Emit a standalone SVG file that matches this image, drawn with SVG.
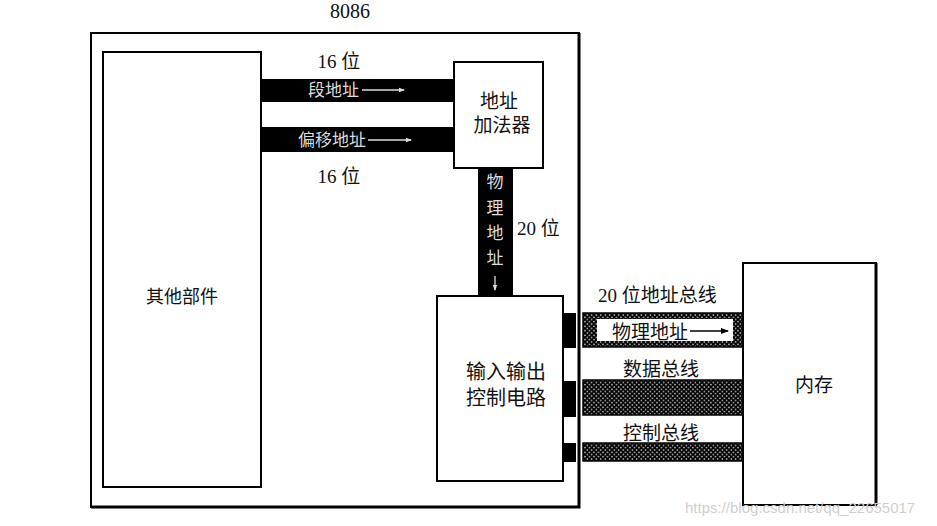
<svg xmlns="http://www.w3.org/2000/svg" width="937" height="526" viewBox="0 0 937 526">
<style>
.box{fill:#fff;stroke:#000;stroke-width:2}
.lbl{font-family:"Liberation Serif","Noto Sans CJK SC",serif;font-size:19px;fill:#111}
.wt{font-family:"Liberation Serif","Noto Sans CJK SC",serif;font-size:17px;fill:#ddd}
.bar{fill:#000}
.hb{fill:url(#hatch);stroke:#000;stroke-width:1.5}
.warr{stroke:#ddd;stroke-width:1.3;fill:none}
.barr{stroke:#000;stroke-width:1.5;fill:none}
</style>
<defs>
<pattern id="hatch" width="4.5" height="4.5" patternUnits="userSpaceOnUse">
<rect width="4.5" height="4.5" fill="#fff"/>
<path d="M0,0L4.5,4.5M4.5,0L0,4.5" stroke="#000" stroke-width="1.9"/>
</pattern>
<marker id="wh" markerWidth="6" markerHeight="6" refX="5" refY="3" orient="auto" markerUnits="userSpaceOnUse">
<path d="M0,0.8L6,3L0,5.2z" fill="#ddd"/>
</marker>
<marker id="bh" markerWidth="8" markerHeight="8" refX="7" refY="4" orient="auto" markerUnits="userSpaceOnUse">
<path d="M0,1L8,4L0,7z" fill="#000"/>
</marker>
</defs>
<rect width="937" height="526" fill="#fff"/>

<g id="cpu8086">
<rect class="box" x="91" y="33" width="488" height="474"/>
<path d="M579,33V507H91" stroke="#000" stroke-width="3" fill="none"/>
<text class="lbl" x="350" y="18" text-anchor="middle" style="font-size:20px">8086</text>
</g>

<g id="other-parts">
<rect class="box" x="103" y="52" width="158" height="435"/>
<text class="lbl" x="182" y="303" text-anchor="middle" style="font-size:18px">其他部件</text>
</g>

<g id="connectors">
<!-- segment address -->
<rect class="bar" x="261" y="79" width="193" height="23"/>
<text class="wt" x="308" y="96">段地址</text>
<line class="warr" x1="362" y1="90" x2="404" y2="90" marker-end="url(#wh)"/>
<text class="lbl" x="339" y="68" text-anchor="middle">16 位</text>
<!-- offset address -->
<rect class="bar" x="261" y="127" width="193" height="25"/>
<text class="wt" x="298" y="146">偏移地址</text>
<line class="warr" x1="368" y1="140" x2="411" y2="140" marker-end="url(#wh)"/>
<text class="lbl" x="339" y="183" text-anchor="middle">16 位</text>
<!-- physical address vertical -->
<rect class="bar" x="478" y="168" width="35" height="128"/>
<text class="wt" x="495" y="188" text-anchor="middle">物</text>
<text class="wt" x="495" y="214" text-anchor="middle">理</text>
<text class="wt" x="495" y="239" text-anchor="middle">地</text>
<text class="wt" x="495" y="264" text-anchor="middle">址</text>
<line class="warr" x1="495" y1="276" x2="495" y2="290" marker-end="url(#wh)"/>
<text class="lbl" x="517" y="235">20 位</text>
<!-- io output stubs -->
<rect class="bar" x="563" y="313" width="13" height="35"/>
<rect class="bar" x="563" y="381" width="13" height="36"/>
<rect class="bar" x="563" y="443" width="13" height="19"/>
<!-- address bus -->
<text class="lbl" x="598" y="302">20 位地址总线</text>
<rect class="hb" x="583" y="313" width="160" height="34"/>
<rect x="597" y="319" width="136" height="22" fill="#fff"/>
<text class="lbl" x="612" y="339">物理地址</text>
<line class="barr" x1="690" y1="331" x2="728" y2="331" marker-end="url(#bh)"/>
<!-- data bus -->
<text class="lbl" x="661" y="376" text-anchor="middle">数据总线</text>
<rect class="hb" x="583" y="380" width="160" height="35"/>
<!-- control bus -->
<text class="lbl" x="661" y="440" text-anchor="middle">控制总线</text>
<rect class="hb" x="583" y="443" width="160" height="18"/>
</g>

<g id="address-adder">
<rect class="box" x="454" y="62" width="89" height="106"/>
<text class="lbl" x="499" y="108" text-anchor="middle">地址</text>
<text class="lbl" x="502" y="132" text-anchor="middle">加法器</text>
</g>

<g id="io-control">
<rect class="box" x="437" y="296" width="126" height="185"/>
<text class="lbl" x="506" y="379" text-anchor="middle" style="font-size:20px">输入输出</text>
<text class="lbl" x="506" y="405" text-anchor="middle" style="font-size:20px">控制电路</text>
</g>

<g id="memory">
<rect class="box" x="743" y="263" width="133" height="242"/>
<line x1="876" y1="263" x2="876" y2="505" stroke="#000" stroke-width="3"/>
<text class="lbl" x="814" y="392" text-anchor="middle">内存</text>
</g>

<text x="685" y="513" font-family="Liberation Sans,sans-serif" font-size="15" fill="#cfcfcf">https://blog.csdn.net/qq_22655017</text>
</svg>
